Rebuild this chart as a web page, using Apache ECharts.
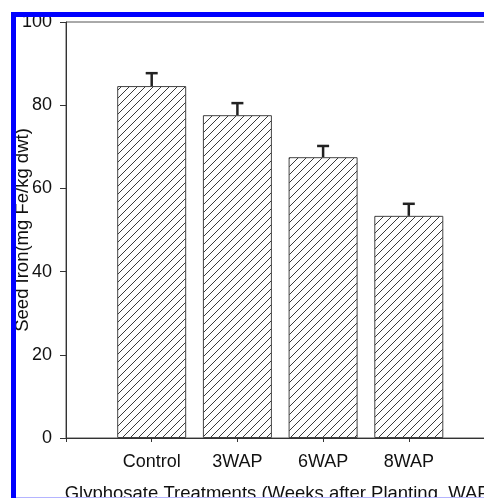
<!DOCTYPE html>
<html>
<head>
<meta charset="utf-8">
<script src="https://cdn.jsdelivr.net/npm/echarts@6/dist/echarts.min.js"></script>
<style>
html,body{margin:0;padding:0;background:#fff;}
#c{width:484px;height:498px;}
</style>
</head>
<body>
<div id="c"></div>
<script>
// ---- data ----
const categories = ['Control', '3WAP', '6WAP', '8WAP'];
const positions = [1, 2, 3, 4];
const seedIron = [84.6, 77.6, 67.5, 53.4];
const seedIronErr = [3.1, 2.9, 2.7, 2.9];
const yTicks = [0, 20, 40, 60, 80, 100];
const xTitle = 'Glyphosate Treatments (Weeks after Planting, WAP)';
const yTitle = 'Seed Iron(mg Fe/kg dwt)';

// hatch pattern
function makeHatch() {
  const s = 8;
  const cv = document.createElement('canvas');
  cv.width = s; cv.height = s;
  const ctx = cv.getContext('2d');
  ctx.fillStyle = '#ffffff';
  ctx.fillRect(0, 0, s, s);
  ctx.strokeStyle = '#3a3a3a';
  ctx.lineWidth = 1;
  ctx.beginPath();
  ctx.moveTo(-1, s + 1); ctx.lineTo(s + 1, -1);
  ctx.moveTo(-1, 1); ctx.lineTo(1, -1);
  ctx.moveTo(s - 1, s + 1); ctx.lineTo(s + 1, s - 1);
  ctx.stroke();
  return cv;
}

const barData = positions.map((p, i) => [p, seedIron[i]]);
const errData = positions.map((p, i) => [p, seedIron[i], seedIronErr[i]]);

const font = "'Liberation Sans', Arial, sans-serif";
const chart = echarts.init(document.getElementById('c'), null, {renderer: 'canvas'});
chart.setOption({
  animation: false,
  backgroundColor: '#ffffff',
  grid: {
    left: 66, top: 22, bottom: 60, right: -10.5,
    containLabel: false, outerBoundsMode: 'none',
    show: true, borderColor: '#555', borderWidth: 1, backgroundColor: 'transparent'
  },
  xAxis: {
    type: 'value', min: 0, max: 5, interval: 1,
    name: xTitle, nameLocation: 'middle', nameGap: 46, nameMoveOverlap: false,
    nameTextStyle: {fontFamily: font, fontSize: 18.5, color: '#111'},
    axisLine: {show: true, lineStyle: {color: '#333', width: 1}},
    axisTick: {show: true, inside: false, length: 4, lineStyle: {color: '#333'}},
    splitLine: {show: false},
    axisLabel: {
      fontFamily: font, fontSize: 18, color: '#111', margin: 15,
      formatter: v => (v >= 1 && v <= categories.length) ? categories[v - 1] : ''
    }
  },
  yAxis: {
    type: 'value', min: yTicks[0], max: yTicks[yTicks.length - 1], interval: 20,
    name: yTitle, nameLocation: 'middle', nameGap: 34, nameRotate: 90, nameMoveOverlap: false,
    nameTextStyle: {fontFamily: font, fontSize: 18.5, color: '#111'},
    axisLine: {show: true, lineStyle: {color: '#333', width: 1}},
    axisTick: {show: true, inside: false, length: 6, lineStyle: {color: '#333'}},
    splitLine: {show: false},
    axisLabel: {fontFamily: font, fontSize: 18, color: '#111', margin: 14}
  },
  series: [
    {
      type: 'bar',
      data: barData,
      barWidth: 69,
      itemStyle: {
        color: {image: makeHatch(), repeat: 'repeat'},
        borderColor: '#444', borderWidth: 1
      },
      z: 2
    },
    {
      type: 'custom',
      data: errData,
      z: 3,
      renderItem: function (params, api) {
        const x = api.value(0), y = api.value(1), e = api.value(2);
        const p0 = api.coord([x, y]);
        const p1 = api.coord([x, y + e]);
        const hw = 6;
        return {
          type: 'group',
          children: [
            {type: 'line', shape: {x1: p0[0], y1: p0[1], x2: p1[0], y2: p1[1]},
             style: {stroke: '#222', lineWidth: 2.5}},
            {type: 'line', shape: {x1: p1[0] - hw, y1: p1[1], x2: p1[0] + hw, y2: p1[1]},
             style: {stroke: '#222', lineWidth: 2.5}}
          ]
        };
      }
    }
  ],
  graphic: [
    {type: 'rect', z: 100, shape: {x: 11, y: 12, width: 5, height: 486}, style: {fill: '#0000ff'}},
    {type: 'rect', z: 100, shape: {x: 11, y: 12, width: 473, height: 5}, style: {fill: '#0000ff'}},
    {type: 'rect', z: 100, shape: {x: 16, y: 497, width: 468, height: 1}, style: {fill: '#b4b4ff'}}
  ]
});
</script>
</body>
</html>
